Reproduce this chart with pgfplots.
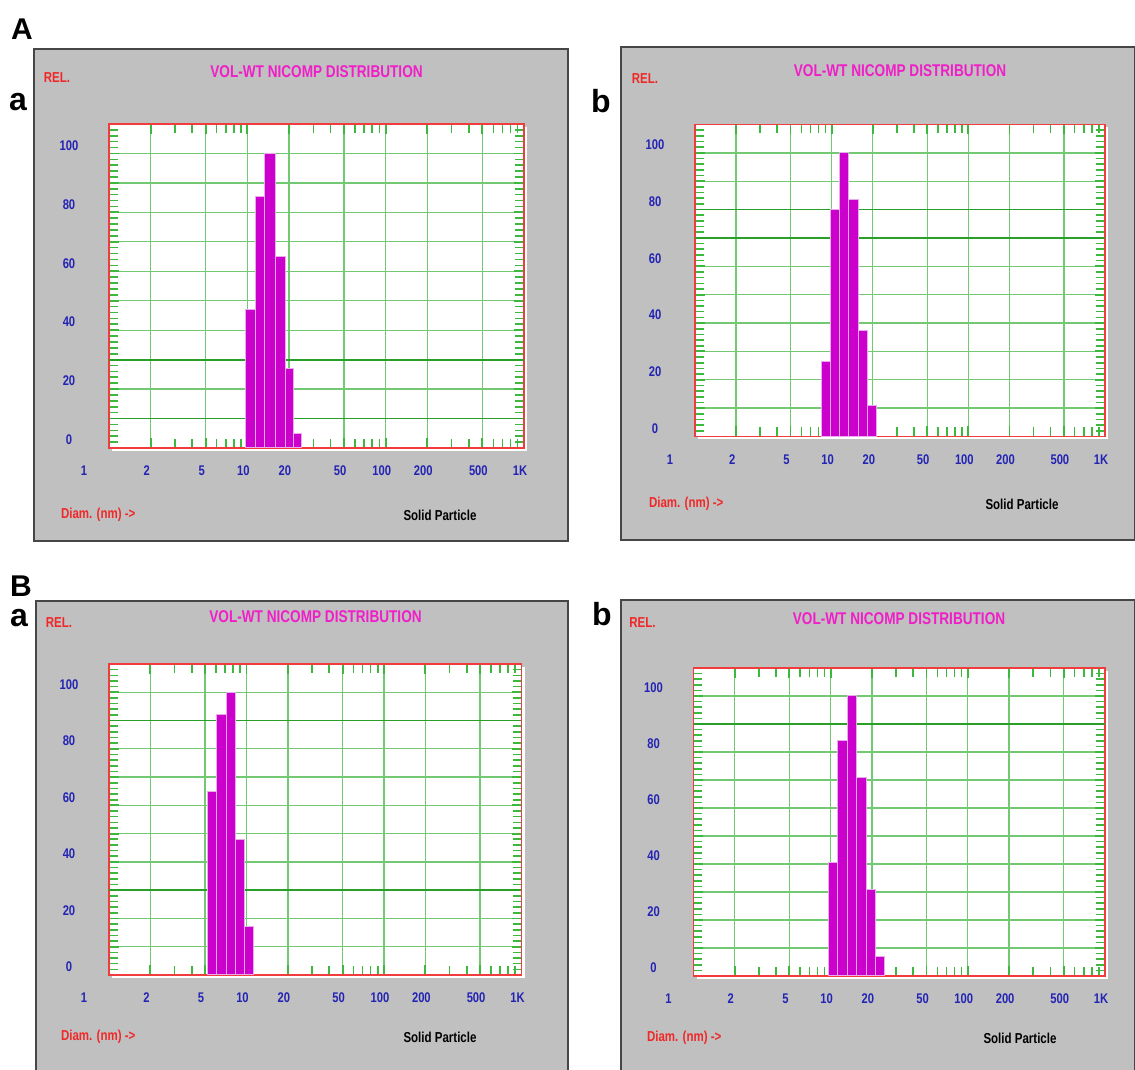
\documentclass[border=0pt]{standalone}
\usepackage{pgfplots}
\pgfplotsset{compat=1.18}
\usepackage{fontspec}
\setmainfont{Liberation Sans}
\newfontfamily\cf[FakeStretch=0.8]{Liberation Sans}
\definecolor{panelgray}{RGB}{192,192,192}
\definecolor{boxedge}{RGB}{70,70,70}
\definecolor{tickblue}{RGB}{35,35,180}
\definecolor{relred}{RGB}{240,40,40}
\definecolor{titlemag}{RGB}{240,30,200}
\definecolor{barmag}{RGB}{204,0,204}
\definecolor{barline}{RGB}{235,170,235}
\definecolor{gridgreen}{RGB}{115,200,115}
\definecolor{darkgreen}{RGB}{40,160,40}
\definecolor{tickgreen}{RGB}{60,185,60}
\definecolor{axisred}{RGB}{240,60,60}
\pgfplotsset{
  nicomp/.style={
    scale only axis, xmin=1, xmax=1000, ymin=0, ymax=110,
    clip=false,
    axis background/.style={fill=white},
    axis line style={draw=axisred, line width=0.6pt},
    xtick={2,5,10,20,50,100,200,500,1000},
    xticklabels={2,5,10,20,50,100,200,500,1K},
    minor xtick={3,4,6,7,8,9,30,40,60,70,80,90,300,400,600,700,800,900},
    ytick={0,10,...,110},
    yticklabels={0,,20,,40,,60,,80,,100,},
    minor ytick={2,4,6,8,12,14,16,18,22,24,26,28,32,34,36,38,42,44,46,48,52,54,56,58,62,64,66,68,72,74,76,78,82,84,86,88,92,94,96,98,102,104,106,108},
    tick align=inside,
    xmajorgrids, ymajorgrids,
    major grid style={draw=gridgreen, line width=0.65pt},
    tick style={draw=tickgreen, line width=0.8pt},
    minor tick style={draw=tickgreen, line width=0.8pt},
    major tick style={draw=tickgreen, line width=0.9pt},
    x tick style={draw=tickgreen},
    y tick style={draw=tickgreen},
    minor y tick style={draw=tickgreen},
    minor x tick style={draw=tickgreen},
    major tick length=5pt, minor tick length=4.5pt,
    xticklabel style={anchor=center, yshift=-11.5pt, xshift=-2pt, text=tickblue, font=\cf\bfseries\fontsize{7}{8}\selectfont},
    yticklabel style={anchor=center, xshift=-20pt, yshift=4pt, text=tickblue, font=\cf\bfseries\fontsize{7}{8}\selectfont},
    extra y tick style={ymajorgrids, major grid style={draw=darkgreen, line width=0.9pt}, major tick length=0pt},
    extra y tick labels={},
  },
  nicbars/.style={ybar interval, fill=barmag, draw=barline, line width=0.5pt},
}
\newcommand{\ttl}{\cf\bfseries\fontsize{8.5}{10}\selectfont}
\newcommand{\sml}{\cf\bfseries\fontsize{7.2}{8.5}\selectfont}
\newcommand{\onelab}{\node[text=tickblue, font=\cf\bfseries\fontsize{7}{8}\selectfont, xshift=-12.5pt, yshift=-11.5pt] at (rel axis cs:0,0) {1};}
\begin{document}
\begin{tikzpicture}[x=0.5pt,y=0.5pt]
\useasboundingbox (0,0) rectangle (1135,1070);
% panel boxes
\fill[panelgray, draw=boxedge, line width=1pt] (34,529) rectangle (568,1021);
\fill[panelgray, draw=boxedge, line width=1pt] (621,530) rectangle (1135,1023);
\fill[panelgray, draw=boxedge, line width=1pt] (36,-2) rectangle (568,469);
\fill[panelgray, draw=boxedge, line width=1pt] (621,-2) rectangle (1135,470);
% plot shadows
\fill[white] (112,619) rectangle (527,943);
\fill[white] (698,630.5) rectangle (1108,942.5);
\fill[white] (112,92) rectangle (524.5,403);
\fill[white] (696.5,91) rectangle (1108,399);
% panel letters
\node[font=\bfseries\fontsize{15}{18}\selectfont] at (22,1041) {A};
\node[font=\bfseries\fontsize{16}{18}\selectfont] at (18,968) {a};
\node[font=\bfseries\fontsize{16}{18}\selectfont] at (601,969) {b};
\node[font=\bfseries\fontsize{15}{18}\selectfont] at (21,484) {B};
\node[font=\bfseries\fontsize{16}{18}\selectfont] at (19,452) {a};
\node[font=\bfseries\fontsize{16}{18}\selectfont] at (602,456) {b};
% panel texts
\node[text=titlemag, font=\ttl] at (316.5,998) {VOL-WT NICOMP DISTRIBUTION};
\node[text=relred, font=\sml] at (57,992) {REL.};
\node[text=relred, font=\sml, anchor=west] at (54,555) {Diam. (nm) ->};
\node[font=\sml] at (440,555) {Solid Particle};
\node[text=titlemag, font=\ttl] at (900,999) {VOL-WT NICOMP DISTRIBUTION};
\node[text=relred, font=\sml] at (645,991) {REL.};
\node[text=relred, font=\sml, anchor=west] at (642,566) {Diam. (nm) ->};
\node[font=\sml] at (1022,566) {Solid Particle};
\node[text=titlemag, font=\ttl] at (315.5,453) {VOL-WT NICOMP DISTRIBUTION};
\node[text=relred, font=\sml] at (59,447) {REL.};
\node[text=relred, font=\sml, anchor=west] at (54,33) {Diam. (nm) ->};
\node[font=\sml] at (440,33) {Solid Particle};
\node[text=titlemag, font=\ttl] at (899,451) {VOL-WT NICOMP DISTRIBUTION};
\node[text=relred, font=\sml] at (642.5,447.5) {REL.};
\node[text=relred, font=\sml, anchor=west] at (640,32) {Diam. (nm) ->};
\node[font=\sml] at (1020,32) {Solid Particle};
% A-a
\begin{semilogxaxis}[nicomp, at={(54.5pt,311pt)}, anchor=south west, width=207.5pt, height=162pt,
  extra y ticks={10,30}]
\addplot[nicbars] coordinates {(9.73,47) (11.4,85.5) (13.4,100) (15.9,65) (18.8,27) (21.7,5) (24.8,5)};
\onelab
\end{semilogxaxis}
% A-b
\begin{semilogxaxis}[nicomp, at={(347.5pt,316.75pt)}, anchor=south west, width=205pt, height=156pt,
  extra y ticks={70,80}]
\addplot[nicbars] coordinates {(8.42,26.5) (9.75,80) (11.5,100) (13.3,83.5) (15.6,37.5) (18.4,11) (21.4,11)};
\onelab
\end{semilogxaxis}
% B-a
\begin{semilogxaxis}[nicomp, at={(54.5pt,47.5pt)}, anchor=south west, width=206.25pt, height=155.5pt,
  extra y ticks={30,90}]
\addplot[nicbars] coordinates {(5.21,65) (6.04,92) (7.12,100) (8.27,48) (9.69,17) (11.2,17)};
\onelab
\end{semilogxaxis}
% B-b
\begin{semilogxaxis}[nicomp, at={(346.75pt,47pt)}, anchor=south west, width=205.75pt, height=154pt,
  extra y ticks={90}]
\addplot[nicbars] coordinates {(9.60,40.5) (11.3,84) (13.2,100) (15.4,71) (18.1,31) (21.2,7) (24.5,7)};
\onelab
\end{semilogxaxis}
\end{tikzpicture}
\end{document}
